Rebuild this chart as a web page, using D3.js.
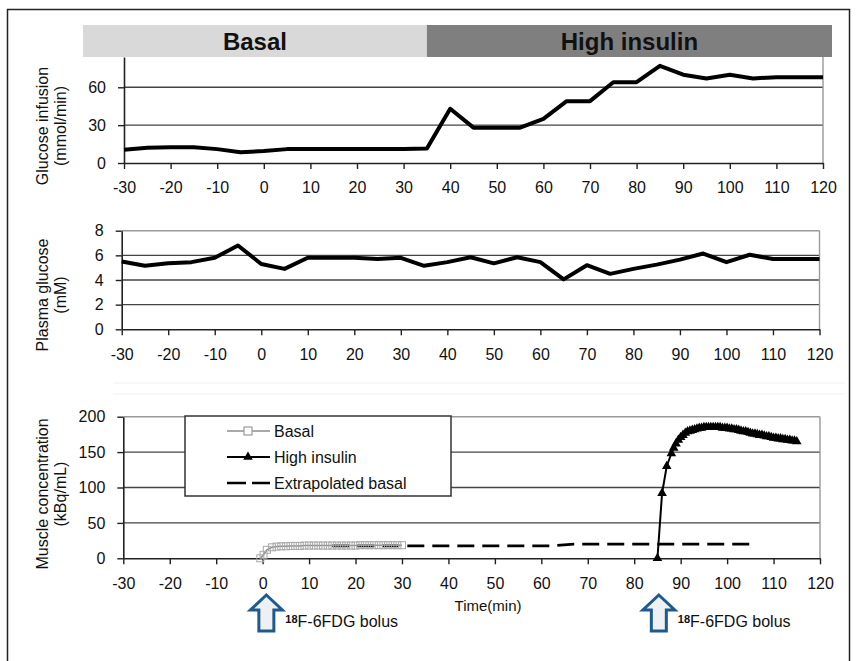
<!DOCTYPE html>
<html>
<head>
<meta charset="utf-8">
<script src="https://cdn.jsdelivr.net/npm/d3@7"></script>
<style>
  body { margin: 0; background: #fff; }
  svg text { font-family: "Liberation Sans", Arial, sans-serif; fill: #111; }
</style>
</head>
<body>
<div id="chart"></div>
<script>
// time axis (min)
const timeTicks = [-30, -20, -10, 0, 10, 20, 30, 40, 50, 60, 70, 80, 90, 100, 110, 120];

// sampling times for the two upper panels, every 5 min
const sampleTime = [-30, -25, -20, -15, -10, -5, 0, 5, 10, 15, 20, 25, 30, 35, 40, 45, 50,
  55, 60, 65, 70, 75, 80, 85, 90, 95, 100, 105, 110, 115, 120];

// glucose infusion (mmol/min)
const infusionRate = [10.5, 12, 12.5, 12.5, 11, 8.5, 9.5, 11, 11, 11, 11, 11, 11, 11.5, 43, 28, 28,
  28, 35, 49, 49, 64, 64, 77, 70, 67, 70, 67, 68, 68, 68];
const infusionTicks = [0, 30, 60];

// plasma glucose (mM)
const plasmaGlucose = [5.5, 5.15, 5.35, 5.45, 5.8, 6.8, 5.3, 4.9, 5.8, 5.8, 5.8, 5.7, 5.8, 5.15, 5.45, 5.85, 5.35,
  5.85, 5.45, 4.05, 5.2, 4.5, 4.9, 5.25, 5.65, 6.15, 5.45, 6.05, 5.7, 5.7, 5.7];
const plasmaTicks = [0, 2, 4, 6, 8];

// muscle concentration (kBq/mL)
const basalTime = [-0.5, 0.2, 0.9, 2, 3, 4, 5, 6, 7, 8, 9, 10, 11, 12, 13, 14, 15, 16, 17, 18, 19, 20,
  21, 22, 23, 24, 25, 26, 27, 28, 29, 30];
const basalConc = [0, 5, 12, 15.5, 16.5, 17, 17, 17.5, 17.5, 17.5, 18, 18, 18, 18, 18, 18, 18, 18, 18, 18,
  18, 18, 18.5, 18.5, 18.5, 18.5, 18.5, 18.5, 18.5, 18.5, 18.5, 18.5];

const insulinTime = [85, 86, 87, 88, 88.5, 89, 89.5, 90, 90.5, 91, 91.5, 92, 92.5, 93, 93.5, 94, 94.5,
  95, 95.5, 96, 96.5, 97, 97.5, 98, 98.5, 99, 99.5, 100, 100.5, 101, 101.5, 102, 102.5, 103, 103.5,
  104, 104.5, 105, 105.5, 106, 106.5, 107, 107.5, 108, 108.5, 109, 109.5, 110, 110.5, 111, 111.5,
  112, 112.5, 113, 113.5, 114, 114.5, 115];
const insulinConc = [0, 92, 130, 148, 156, 162, 167, 171, 174, 177, 179, 180, 181, 182, 183, 184, 184,
  185, 185, 185, 185, 185, 185, 185, 185, 184, 184, 184, 183, 183, 182, 182, 181, 180, 179,
  179, 178, 177, 176, 176, 175, 174, 174, 173, 172, 172, 171, 170, 170, 169, 169,
  168, 168, 167, 167, 166, 166, 165];

const extrapTime = [15, 62, 67, 105.5];
const extrapConc = [17.5, 17.5, 20, 20];
const muscleTicks = [0, 50, 100, 150, 200];

const phaseNames = ['Basal', 'High insulin'];
const phaseSwitch = 35;
const bolusTimes = [0.8, 85.3];
const legendNames = ['Basal', 'High insulin', 'Extrapolated basal'];

const W = 856, H = 661;
const svg = d3.select('#chart').append('svg')
    .attr('width', W)
    .attr('height', H);

// outer frame (bottom edge is cropped in the original)
svg.append('rect')
    .attr('x', 7.5).attr('y', 9.5)
    .attr('width', 842).attr('height', 670)
    .attr('fill', 'none').attr('stroke', '#222').attr('stroke-width', 1.5);

// faint scan lines between middle and bottom panels
[383, 394].forEach(yy => {
  svg.append('line').attr('x1', 113).attr('x2', 845).attr('y1', yy).attr('y2', yy)
      .attr('stroke', '#f0f0f0').attr('stroke-width', 1);
});

function panel(cfg) {
  const x = d3.scaleLinear().domain([-30, 120]).range(cfg.xr);
  const y = d3.scaleLinear().domain(cfg.dom).range(cfg.yr);
  const g = svg.append('g');

  // gridlines
  g.selectAll('line.grid')
    .data(cfg.ticks.filter(v => v > 0 && v < cfg.dom[1]))
    .enter().append('line')
      .attr('class', 'grid')
      .attr('x1', cfg.xr[0]).attr('x2', cfg.xr[1])
      .attr('y1', d => y(d)).attr('y2', d => y(d))
      .attr('stroke', '#444').attr('stroke-width', 1.4);

  if (cfg.topBorder) {
    g.append('line')
      .attr('x1', cfg.xr[0]).attr('x2', cfg.xr[1])
      .attr('y1', y(cfg.dom[1])).attr('y2', y(cfg.dom[1]))
      .attr('stroke', '#999').attr('stroke-width', 1.4);
  }
  g.append('line')
    .attr('x1', cfg.xr[1]).attr('x2', cfg.xr[1])
    .attr('y1', y(0)).attr('y2', y(cfg.dom[1]))
    .attr('stroke', '#999').attr('stroke-width', 1.4);

  const xa = g.append('g')
      .attr('transform', `translate(0,${y(0)})`)
      .call(d3.axisBottom(x).tickValues(timeTicks).tickFormat(d => String(d))
        .tickSize(6).tickSizeOuter(0).tickPadding(13));
  const ya = g.append('g')
      .attr('transform', `translate(${cfg.xr[0]},0)`)
      .call(d3.axisLeft(y).tickValues(cfg.ticks).tickFormat(d => String(d))
        .tickSize(6).tickSizeOuter(0).tickPadding(12));
  [xa, ya].forEach(a => {
    a.select('.domain').attr('stroke', '#222').attr('stroke-width', 1.6);
    a.selectAll('.tick line').attr('stroke', '#222').attr('stroke-width', 1.4);
    a.selectAll('.tick text').style('font-size', '16px').attr('fill', '#111');
  });

  cfg.label.forEach((t, i) => {
    g.append('text')
      .attr('transform', `translate(${48 + i * 18},${cfg.labelY}) rotate(-90)`)
      .attr('text-anchor', 'middle')
      .style('font-size', '16px')
      .text(t);
  });
  return { x, y };
}

// ---- top panel: glucose infusion
const p1 = panel({ xr: [124, 823], yr: [163, 57], dom: [0, 84], ticks: infusionTicks,
  topBorder: false, label: ['Glucose infusion', '(mmol/min)'], labelY: 126 });

// phase header bars
const barL = 83, barR = 832, barTop = 25, barH = 32;
const sw = p1.x(phaseSwitch);
const bars = [
  { name: phaseNames[0], x0: barL, x1: sw, fill: '#d9d9d9' },
  { name: phaseNames[1], x0: sw, x1: barR, fill: '#7f7f7f' }
];
svg.selectAll('rect.phase')
  .data(bars)
  .enter().append('rect')
    .attr('class', 'phase')
    .attr('x', d => d.x0).attr('y', barTop)
    .attr('width', d => d.x1 - d.x0).attr('height', barH)
    .attr('fill', d => d.fill);
svg.selectAll('text.phase')
  .data(bars)
  .enter().append('text')
    .attr('class', 'phase')
    .attr('x', d => (d.x0 + d.x1) / 2).attr('y', barTop + 25)
    .attr('text-anchor', 'middle')
    .style('font-size', '24px').style('font-weight', 'bold')
    .text(d => d.name);

svg.append('path')
    .datum(sampleTime.map((t, i) => [t, infusionRate[i]]))
    .attr('fill', 'none').attr('stroke', '#000').attr('stroke-width', 4)
    .attr('stroke-linejoin', 'round')
    .attr('d', d3.line().x(d => p1.x(d[0])).y(d => p1.y(d[1])));

// ---- middle panel: plasma glucose
const p2 = panel({ xr: [121.7, 819.5], yr: [329.3, 230.7], dom: [0, 8], ticks: plasmaTicks,
  topBorder: true, label: ['Plasma glucose', '(mM)'], labelY: 295 });

svg.append('path')
    .datum(sampleTime.map((t, i) => [t, plasmaGlucose[i]]))
    .attr('fill', 'none').attr('stroke', '#000').attr('stroke-width', 4)
    .attr('stroke-linejoin', 'round')
    .attr('d', d3.line().x(d => p2.x(d[0])).y(d => p2.y(d[1])));

// ---- bottom panel: muscle concentration
const p3 = panel({ xr: [123.3, 820], yr: [558.3, 416.7], dom: [0, 200], ticks: muscleTicks,
  topBorder: true, label: ['Muscle concentration', '(kBq/mL)'], labelY: 494 });

// legend box (covers gridlines)
const lg = svg.append('g');
lg.append('rect')
    .attr('x', 185).attr('y', 416).attr('width', 266).attr('height', 80)
    .attr('fill', '#fff').attr('stroke', '#333').attr('stroke-width', 1.5);
const tri = d3.symbol().type(d3.symbolTriangle).size(40);
const legendRows = [431, 457, 483];
legendNames.forEach((name, i) => {
  const ly = legendRows[i];
  const ln = lg.append('line').attr('x1', 227).attr('x2', 270).attr('y1', ly).attr('y2', ly);
  if (i === 0) {
    ln.attr('stroke', '#8c8c8c').attr('stroke-width', 1.5);
    lg.append('rect').attr('x', 244).attr('y', ly - 4).attr('width', 8).attr('height', 8)
      .attr('fill', '#fff').attr('stroke', '#9a9a9a').attr('stroke-width', 1.2);
  } else if (i === 1) {
    ln.attr('stroke', '#000').attr('stroke-width', 2);
    lg.append('path').attr('d', tri).attr('transform', `translate(248,${ly})`).attr('fill', '#000');
  } else {
    ln.attr('stroke', '#000').attr('stroke-width', 2.5).attr('stroke-dasharray', '19,6');
  }
  lg.append('text').attr('x', 274).attr('y', ly + 6).style('font-size', '16px').text(name);
});

// extrapolated basal (dashed)
svg.append('path')
    .datum(extrapTime.map((t, i) => [t, extrapConc[i]]))
    .attr('fill', 'none').attr('stroke', '#000').attr('stroke-width', 2.6)
    .attr('stroke-dasharray', '17,8')
    .attr('d', d3.line().x(d => p3.x(d[0])).y(d => p3.y(d[1])));

// basal (grey squares)
const basal = basalTime.map((t, i) => [t, basalConc[i]]);
svg.append('path')
    .datum(basal)
    .attr('fill', 'none').attr('stroke', '#8c8c8c').attr('stroke-width', 1.5)
    .attr('d', d3.line().x(d => p3.x(d[0])).y(d => p3.y(d[1])));
svg.selectAll('rect.basal')
  .data(basal)
  .enter().append('rect')
    .attr('class', 'basal')
    .attr('x', d => p3.x(d[0]) - 3.5).attr('y', d => p3.y(d[1]) - 3.5)
    .attr('width', 7).attr('height', 7)
    .attr('fill', 'none').attr('stroke', '#a8a8a8').attr('stroke-width', 1);

// high insulin (black triangles)
const insulin = insulinTime.map((t, i) => [t, insulinConc[i]]);
svg.append('path')
    .datum(insulin)
    .attr('fill', 'none').attr('stroke', '#000').attr('stroke-width', 2)
    .attr('d', d3.line().x(d => p3.x(d[0])).y(d => p3.y(d[1])));
svg.selectAll('path.hi')
  .data(insulin)
  .enter().append('path')
    .attr('class', 'hi')
    .attr('d', tri)
    .attr('transform', d => `translate(${p3.x(d[0])},${p3.y(d[1])})`)
    .attr('fill', '#000');

// x-axis title
svg.append('text')
    .attr('x', 488).attr('y', 611)
    .attr('text-anchor', 'middle')
    .style('font-size', '15px')
    .text('Time(min)');

// bolus arrows
bolusTimes.forEach(t => {
  const cx = p3.x(t), top = 595;
  const pts = [[cx, top], [cx + 16, top + 15], [cx + 7.5, top + 15], [cx + 7.5, top + 36],
    [cx - 7.5, top + 36], [cx - 7.5, top + 15], [cx - 16, top + 15]];
  svg.append('path')
      .attr('d', d3.line()(pts) + 'Z')
      .attr('fill', '#eef1f4').attr('stroke', '#1f5a8e').attr('stroke-width', 3)
      .attr('stroke-linejoin', 'miter');
  const tx = svg.append('text').attr('x', cx + 19).attr('y', 627).style('font-size', '16px');
  tx.append('tspan').attr('dy', -4).style('font-size', '11px').style('font-weight', 'bold').text('18');
  tx.append('tspan').attr('dy', 4).text('F-6FDG bolus');
});
</script>
</body>
</html>
